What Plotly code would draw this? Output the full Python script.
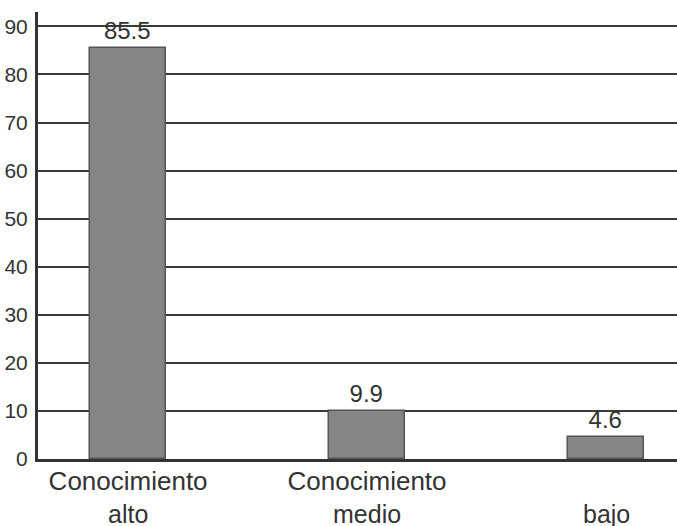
import plotly.graph_objects as go

categories_line1 = ["Conocimiento", "Conocimiento", "Conocimiento"]
categories_line2 = ["alto", "medio", "bajo"]
values = [85.5, 9.9, 4.6]
y_ticks = [0, 10, 20, 30, 40, 50, 60, 70, 80, 90]

xpos = list(range(len(values)))

fig = go.Figure()
fig.add_trace(go.Bar(
    x=xpos, y=values,
    width=0.32,
    marker=dict(color="#858585", line=dict(color="#555555", width=1.5)),
    text=[f"{v:.1f}" for v in values],
    textposition="outside",
    constraintext="none",
    textfont=dict(family="Liberation Sans, Arial", size=24, color="#333333"),
    cliponaxis=False,
))

for x, t in zip(xpos, categories_line2):
    fig.add_annotation(x=x, y=0, xref="x", yref="paper", yshift=-39, yanchor="top",
                       text=t, showarrow=False,
                       font=dict(family="Liberation Sans, Arial", size=25, color="#333333"))

fig.update_layout(
    width=677, height=526,
    margin=dict(l=38, r=0, t=12, b=67),
    paper_bgcolor="white", plot_bgcolor="white",
    showlegend=False,
    bargap=0,
    xaxis=dict(
        range=[-0.377, 2.297], automargin=False,
        tickvals=xpos, ticktext=categories_line1,
        tickfont=dict(family="Liberation Sans, Arial", size=26, color="#333333"),
        showgrid=False, zeroline=False, showline=True, linecolor="#333333", linewidth=2.5,
        ticks="", ticklabelstandoff=-3,
    ),
    yaxis=dict(
        range=[0, 93], tickvals=y_ticks, automargin=False,
        tickfont=dict(family="Liberation Sans, Arial", size=21, color="#333333"),
        showgrid=True, gridcolor="#3a3a3a", gridwidth=2,
        zeroline=False, showline=True, linecolor="#333333", linewidth=3,
        ticks="", ticklabelstandoff=3,
    ),
)

fig.write_html("out.html", config={"displayModeBar": False},
               post_script="document.body.style.margin='0';")
